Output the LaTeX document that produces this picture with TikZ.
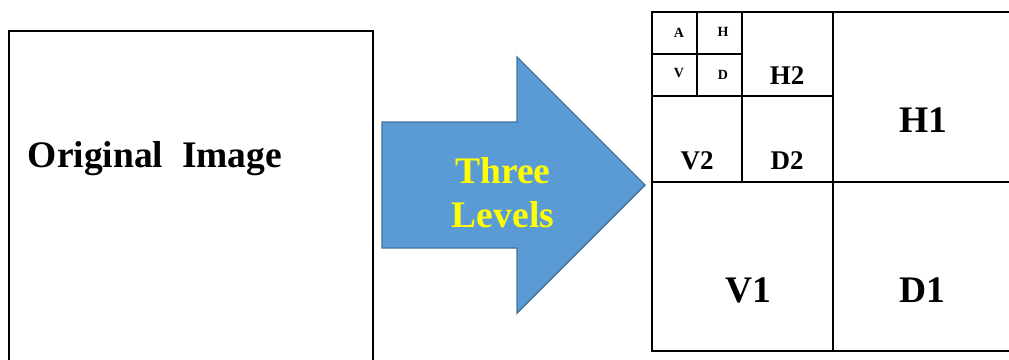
\documentclass[tikz,border=0pt]{standalone}
\usepackage{fontspec}
\setmainfont{Liberation Serif}
\definecolor{arrowfill}{HTML}{5B9BD5}
\definecolor{arrowedge}{HTML}{41719C}
\definecolor{txtyellow}{HTML}{FFFF00}
\tikzset{
  boxline/.style={draw=black, line width=1.8pt},
  gridline/.style={draw=black, line width=1.7pt},
  bigtxt/.style={inner sep=0pt, anchor=base, font=\fontsize{37.5}{44}\selectfont\bfseries},
  midtxt/.style={inner sep=0pt, anchor=base, font=\fontsize{27}{32}\selectfont\bfseries},
  smalltxt/.style={inner sep=0pt, anchor=base, font=\fontsize{14}{16}\selectfont\bfseries},
  arrowshape/.style={fill=arrowfill, draw=arrowedge, line width=1.4pt, line join=miter}
}
\begin{document}
\begin{tikzpicture}[x=1pt,y=-1pt]
\useasboundingbox (0,0) rectangle (1009,359);
\clip (0,0) rectangle (1009,359);
% original image box
\draw[boxline] (9,31) rectangle (373,375);
\node[bigtxt] (orig) at (155,167) {Original\ \ Image};
% arrow
\draw[arrowshape] (382,122) -- (517,122) -- (517,57) -- (645,185) -- (517,313) -- (517,248) -- (382,248) -- cycle;
\node[bigtxt, text=txtyellow] (three) at (503,183) {Three};
\node[bigtxt, text=txtyellow] (levels) at (503,227) {Levels};
% decomposition grid
\draw[gridline] (652,12) rectangle (1020,351);
\draw[gridline] (833,12) -- (833,351);
\draw[gridline] (652,182) -- (1020,182);
\draw[gridline] (742,12) -- (742,182);
\draw[gridline] (652,96) -- (833,96);
\draw[gridline] (697,12) -- (697,96);
\draw[gridline] (652,54) -- (742,54);
% labels
\node[smalltxt] (a3) at (679,37) {A};
\node[smalltxt] (h3) at (723,36) {H};
\node[smalltxt] (v3) at (679,77) {V};
\node[smalltxt] (d3) at (723,79) {D};
\node[midtxt] (h2) at (787,84) {H2};
\node[midtxt] (v2) at (697,169) {V2};
\node[midtxt] (d2) at (787,169) {D2};
\node[bigtxt] (h1) at (923,132) {H1};
\node[bigtxt] (v1) at (748,302) {V1};
\node[bigtxt] (d1) at (922,302) {D1};
\end{tikzpicture}
\end{document}
